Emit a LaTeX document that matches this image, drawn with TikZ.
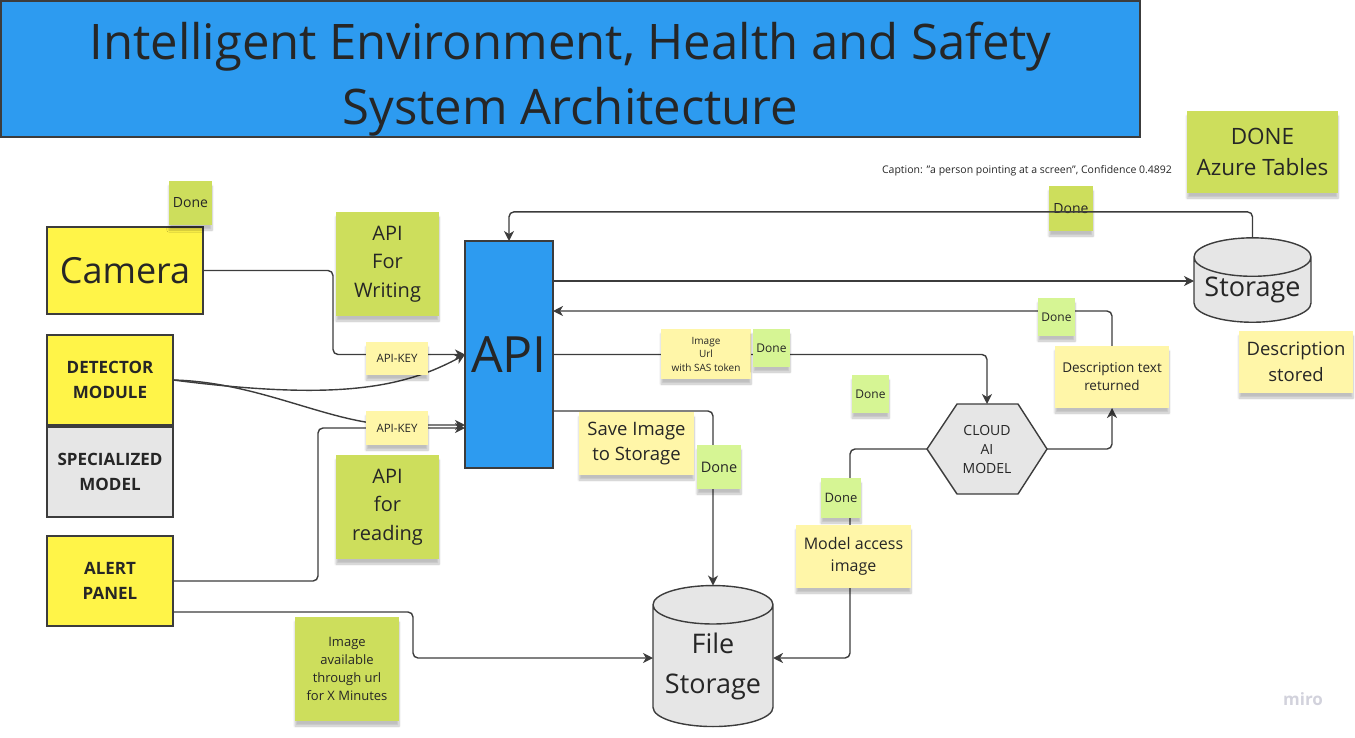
\documentclass[tikz,border=0pt]{standalone}
\usepackage{fontspec}
\setmainfont{Open Sans}
\usepackage{tikz}
\usetikzlibrary{shapes.geometric,shadows.blur,backgrounds,arrows.meta}

\definecolor{archblue}{RGB}{45,155,240}
\definecolor{devyellow}{RGB}{255,244,72}
\definecolor{boxgray}{RGB}{230,230,230}
\definecolor{stickygreen}{RGB}{205,222,92}
\definecolor{donegreen}{RGB}{214,245,148}
\definecolor{notepale}{RGB}{255,246,168}
\definecolor{linegray}{RGB}{60,60,60}
\definecolor{inkgray}{RGB}{38,38,38}
\definecolor{logogray}{RGB}{210,210,220}

\tikzstyle{every node}=[inner sep=0pt, outer sep=0pt, align=center, text=inkgray]
\tikzstyle{device}=[rectangle, draw=linegray, line width=1.6pt, fill=devyellow,
                    minimum width=126pt, minimum height=90pt,
                    font=\fontsize{17}{25}\selectfont\bfseries]
\tikzstyle{sticky}=[rectangle, blur shadow={shadow xshift=0pt, shadow yshift=-5pt,
                    shadow opacity=25, shadow blur steps=6}]
\tikzstyle{greennote}=[sticky, fill=stickygreen]
\tikzstyle{donenote}=[sticky, fill=donegreen]
\tikzstyle{palenote}=[sticky, fill=notepale]
\tikzstyle{store}=[cylinder, shape border rotate=90, aspect=0.4, draw=linegray,
                   line width=1.4pt, fill=boxgray, font=\fontsize{27}{40}\selectfont]
\tikzstyle{link}=[draw=linegray, line width=1.4pt, rounded corners=5pt]
\tikzstyle{feed}=[link, -{Stealth[length=10pt,width=10pt,inset=3pt]}]

\begin{document}
\begin{tikzpicture}[x=1pt,y=-1pt]
  \useasboundingbox (0,0) rectangle (1355,737);

  % title banner
  \node[rectangle, draw=linegray, line width=1.6pt, fill=archblue,
        minimum width=1139pt, minimum height=136pt] (title) at (570.5,69) {};
  \node[font=\fontsize{49}{65}\selectfont] (titletext) at (570.5,79)
        {Intelligent Environment, Health and Safety\\System Architecture};

  % devices on the left
  \node[device, minimum width=156pt, minimum height=87pt,
        font=\fontsize{36}{40}\selectfont] (camera) at (125,270.5) {Camera};
  \node[device] (detector) at (110,380) {DETECTOR\\MODULE};
  \node[device, fill=boxgray] (special) at (110,472) {SPECIALIZED\\MODEL};
  \node[device] (alert) at (110,581) {ALERT\\PANEL};

  % api and stores
  \node[rectangle, draw=linegray, line width=1.6pt, fill=archblue,
        minimum width=88pt, minimum height=227pt,
        font=\fontsize{50}{55}\selectfont] (api) at (509,354.5) {API};
  \node[store, minimum width=117pt, minimum height=84pt] (storage) at (1252.5,290) {Storage};
  \node[store, minimum width=120pt, minimum height=141pt] (files) at (713,666) {File\\Storage};
  \node[minimum width=120pt, minimum height=90pt,
        font=\fontsize{14}{19}\selectfont] (cloud) at (987,449) {CLOUD\\AI\\MODEL};

  % sticky notes
  \node[greennote, minimum width=43pt, minimum height=44pt,
        font=\fontsize{14}{16}\selectfont] (donecam) at (190.5,203) {Done};
  \node[greennote, minimum width=103pt, minimum height=104pt,
        font=\fontsize{20}{28.5}\selectfont] (writing) at (387.5,264) {API\\For\\Writing};
  \node[palenote, minimum width=62pt, minimum height=33pt,
        font=\fontsize{11.5}{14}\selectfont] (keyw) at (397,358.5) {API-KEY};
  \node[palenote, minimum width=62pt, minimum height=34pt,
        font=\fontsize{11.5}{14}\selectfont] (keyr) at (397,428) {API-KEY};
  \node[greennote, minimum width=103pt, minimum height=104pt,
        font=\fontsize{20}{28.5}\selectfont] (reading) at (387.5,507) {API\\for\\reading};
  \node[greennote, minimum width=104pt, minimum height=104pt,
        font=\fontsize{13}{18}\selectfont] (avail) at (347,669)
        {Image\\available\\through url\\for X Minutes};
  \node[palenote, minimum width=115pt, minimum height=63pt,
        font=\fontsize{18.5}{25}\selectfont] (save) at (636.5,443.5) {Save Image\\to Storage};
  \node[donenote, minimum width=44pt, minimum height=44pt,
        font=\fontsize{14.5}{16}\selectfont] (donesave) at (719,467) {Done};
  \node[palenote, minimum width=90pt, minimum height=50pt,
        font=\fontsize{10}{13.5}\selectfont] (sas) at (706,354) {Image\\Url\\with SAS token};
  \node[donenote, minimum width=37pt, minimum height=38pt,
        font=\fontsize{12}{14}\selectfont] (donesas) at (771.5,348) {Done};
  \node[donenote, minimum width=37pt, minimum height=38pt,
        font=\fontsize{12}{14}\selectfont] (donecloud) at (870.5,394) {Done};
  \node[donenote, minimum width=40pt, minimum height=40pt,
        font=\fontsize{13}{15}\selectfont] (doneaccess) at (841,498) {Done};
  \node[palenote, minimum width=115pt, minimum height=63pt,
        font=\fontsize{16}{22}\selectfont] (access) at (853.5,556.5) {Model access\\image};
  \node[palenote, minimum width=114pt, minimum height=62pt,
        font=\fontsize{13.5}{18}\selectfont] (returned) at (1112,377)
        {Description text\\returned};
  \node[donenote, minimum width=37pt, minimum height=38pt,
        font=\fontsize{12}{14}\selectfont] (donereturn) at (1056.5,317) {Done};
  \node[palenote, minimum width=114pt, minimum height=62pt,
        font=\fontsize{18.5}{26}\selectfont] (stored) at (1296,362) {Description\\stored};
  \node[greennote, minimum width=151pt, minimum height=82pt,
        font=\fontsize{22.5}{31}\selectfont] (azure) at (1262.5,152) {DONE\\Azure Tables};
  \node[greennote, minimum width=44pt, minimum height=45pt,
        font=\fontsize{14}{16}\selectfont] (donetable) at (1071,208.5) {Done};

  \node[font=\fontsize{10.5}{12}\selectfont] (caption) at (1027,171)
        {Caption: "a person pointing at a screen", Confidence 0.4892};
  \node[font=\fontsize{17}{20}\selectfont\bfseries, text=logogray] (miro) at (1303,699) {miro};

  \begin{scope}[on background layer]
    \path[draw=linegray, line width=1.4pt, fill=boxgray, line join=round]
      (cloud.west) -- ([xshift=-30pt]cloud.north) -- ([xshift=31pt]cloud.north)
      -- (cloud.east) -- ([xshift=31pt]cloud.south) -- ([xshift=-30pt]cloud.south) -- cycle;

    \draw[feed] (camera.east) -| ([xshift=-132pt]api.west) -- (api.west);
    \draw[feed] (detector.east) .. controls (330,400) and (400,390) .. (api.west);
    \draw[feed] (detector.east) .. controls (260,382) and (330,424) .. (400,425)
                -- (api.west |- 0,425);
    \draw[feed] (alert.east) -| (318,500) |- (api.west |- 0,428);
    \draw[feed] ([yshift=-31pt]alert.east) -| (413,640) |- (files.west |- 0,658);
    \draw[feed] (api.east |- 0,281) -- (storage.west |- 0,281);
    \draw[feed] (returned.north) |- (api.east |- 0,311);
    \draw[feed] (api.east) -| (cloud.north);
    \draw[feed] (api.east |- 0,411) -| (files.north);
    \draw[feed] (cloud.east) -| (returned.south);
    \draw[feed] (cloud.west) -| ([xshift=77pt]files.east |- 0,600) |- (files.east |- 0,658);
  \end{scope}

  \draw[feed] (storage.north) -- ++(0,-26) -| (api.north);
\end{tikzpicture}
\end{document}
